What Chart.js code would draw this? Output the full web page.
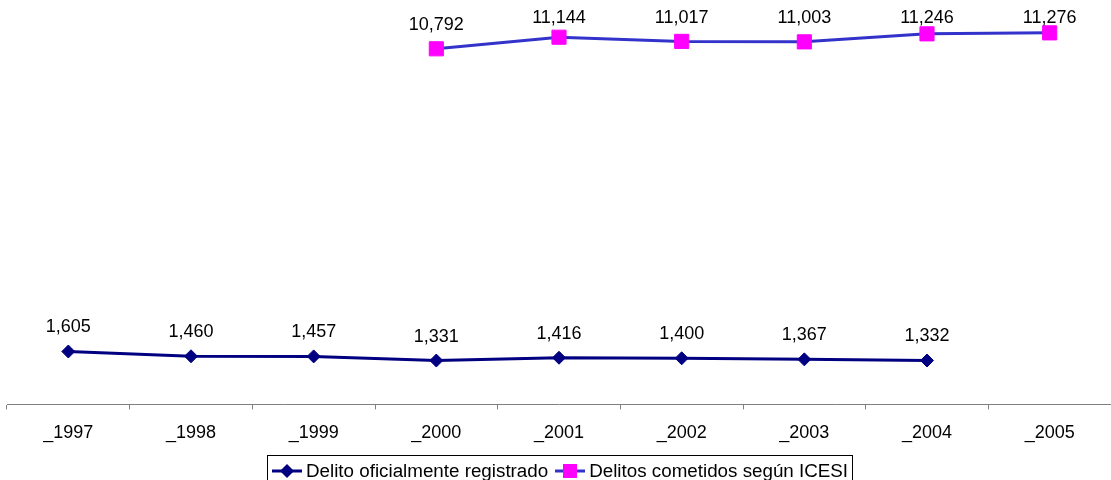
<!DOCTYPE html>
<html>
<head>
<meta charset="utf-8">
<script src="https://cdn.jsdelivr.net/npm/chart.js@4"></script>
<style>
  html, body { margin: 0; padding: 0; background: #fff; }
  #wrap { position: relative; width: 1111px; height: 480px; overflow: hidden; }
  #legend {
    position: absolute; left: 267px; top: 455px; width: 586px; height: 30px;
    border: 1px solid #000;
    font-family: "Liberation Sans", Arial, sans-serif; font-size: 18.8px; color: #000;
    display: flex; align-items: flex-start; padding-top: 4px; box-sizing: border-box;
  }
  .item { display: flex; align-items: center; white-space: nowrap; }
  .item svg { margin: 0 4px 0 4px; }
</style>
</head>
<body>
<div id="wrap">
  <canvas id="c" width="1111" height="480"></canvas>
  <div id="legend"></div>
</div>
<script>
// categories and series
const years = ['_1997', '_1998', '_1999', '_2000', '_2001', '_2002', '_2003', '_2004', '_2005'];
const oficial = [1605, 1460, 1457, 1331, 1416, 1400, 1367, 1332, null];
const icesi = [null, null, null, 10792, 11144, 11017, 11003, 11246, 11276];
const seriesNames = ['Delito oficialmente registrado', 'Delitos cometidos según ICESI'];

const FONT = '"Liberation Sans", Arial, sans-serif';

// value labels above each point (kept inside the plot top like the original)
const pointLabels = {
  id: 'pointLabels',
  afterDatasetsDraw(chart) {
    const ctx = chart.ctx;
    ctx.save();
    ctx.font = '18px ' + FONT;
    ctx.fillStyle = '#000';
    ctx.textAlign = 'center';
    ctx.textBaseline = 'middle';
    chart.data.datasets.forEach((ds, i) => {
      chart.getDatasetMeta(i).data.forEach((pt, j) => {
        const v = ds.data[j];
        if (v == null) return;
        ctx.fillText(v.toLocaleString('en-US'), pt.x, Math.max(pt.y - 24, 18));
      });
    });
    ctx.restore();
  }
};

const chart = new Chart(document.getElementById('c'), {
  type: 'line',
  data: {
    labels: years,
    datasets: [
      {
        label: seriesNames[0], data: oficial,
        borderColor: '#000080', backgroundColor: '#000080', borderWidth: 3,
        pointStyle: 'rectRot', pointRadius: 6.5, pointBorderWidth: 1,
        spanGaps: false, tension: 0
      },
      {
        label: seriesNames[1], data: icesi,
        borderColor: '#3333CC', backgroundColor: '#FF00FF', borderWidth: 3,
        pointStyle: 'rect', pointRadius: 10, pointBorderColor: '#FF00FF', pointBorderWidth: 1,
        spanGaps: false, tension: 0
      }
    ]
  },
  options: {
    responsive: false,
    animation: false,
    layout: { autoPadding: false, padding: { left: 7, right: 0, top: 9, bottom: 23 } },
    plugins: { legend: { display: false }, tooltip: { enabled: false } },
    scales: {
      x: {
        offset: true,
        afterFit(scale) { scale.paddingLeft = 0; scale.paddingRight = 0; },
        grid: { offset: true, drawOnChartArea: false, tickLength: 5, color: '#808080', lineWidth: 1 },
        border: { color: '#808080', width: 1 },
        ticks: { color: '#000', font: { family: FONT, size: 18 }, padding: 13, maxRotation: 0 }
      },
      y: { display: false, min: 0, max: 12000 }
    }
  },
  plugins: [pointLabels]
});

// legend with line + marker icons
const legend = document.getElementById('legend');
const icons = [
  '<svg width="30" height="14"><line x1="0" y1="7" x2="30" y2="7" stroke="#000080" stroke-width="3"/><polygon points="15,0 22,7 15,14 8,7" fill="#000080"/></svg>',
  '<svg width="30" height="14"><line x1="0" y1="7" x2="30" y2="7" stroke="#3333CC" stroke-width="3"/><rect x="8" y="0" width="14" height="14" fill="#FF00FF"/></svg>'
];
seriesNames.forEach((name, i) => {
  const it = document.createElement('span');
  it.className = 'item';
  it.innerHTML = icons[i] + '<span>' + name + '</span>';
  if (i > 0) it.style.marginLeft = '3px';
  legend.appendChild(it);
});
</script>
</body>
</html>
